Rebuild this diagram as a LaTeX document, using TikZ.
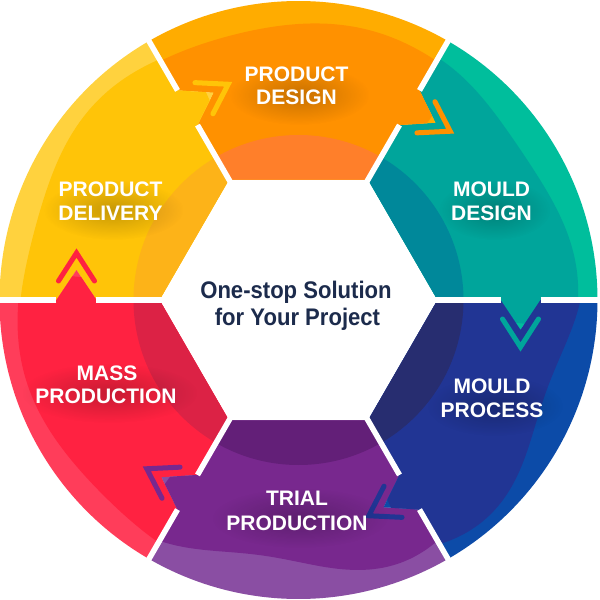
\documentclass[tikz,border=0pt]{standalone}
\usepackage{fontspec}
\setmainfont{Liberation Sans}
\newfontfamily\ctrfont{Liberation Sans}[FakeStretch=0.92]
\usetikzlibrary{calc,fadings}

% Product Design
\definecolor{pdM}{HTML}{FF9100}\definecolor{pdO}{HTML}{FFAC00}\definecolor{pdI}{HTML}{FF7F2A}
% Mould Design
\definecolor{mdM}{HTML}{00A59B}\definecolor{mdO}{HTML}{00BE9C}\definecolor{mdI}{HTML}{00889A}
% Mould Process
\definecolor{mpM}{HTML}{213594}\definecolor{mpO}{HTML}{0C4BA8}\definecolor{mpI}{HTML}{272D70}
% Trial Production
\definecolor{trM}{HTML}{78288E}\definecolor{trO}{HTML}{8A4EA3}\definecolor{trI}{HTML}{631F78}
% Mass Production
\definecolor{msM}{HTML}{FF2241}\definecolor{msO}{HTML}{FF3D5A}\definecolor{msI}{HTML}{DC2245}
% Product Delivery
\definecolor{dlM}{HTML}{FFC408}\definecolor{dlO}{HTML}{FFD23E}\definecolor{dlI}{HTML}{FDB318}
\definecolor{navy}{HTML}{1C2B4C}

\tikzfading[name=softglow, inner color=transparent!0, outer color=transparent!100]

\newcommand\segshape[1]{(#1:139) -- (#1:202) -- ($(#1:222)+({#1-90}:30)$) -- (#1:242) -- (#1:299)
  arc[start angle=#1, end angle={#1+60}, radius=299] -- ({#1+60}:242)
  -- ($({#1+60}:222)+({#1-30}:30)$) -- ({#1+60}:202) -- ({#1+60}:139) -- cycle}

% soft shadow behind a two-line label, centred at (#1,#2), half-width #3
\newcommand\glow[3]{%
  \fill[black, opacity=0.22, path fading=softglow]
    (#1+3,#2-5) ellipse [x radius=#3, y radius=30];}

\begin{document}
\begin{tikzpicture}[x=1pt,y=1pt,
  gap/.style={white, line width=5.5pt},
  chev/.style={line width=5pt, line cap=round, line join=miter},
  lbl/.style={text=white, font=\bfseries\fontsize{21}{23}\selectfont, anchor=base, inner sep=0pt},
  ctr/.style={text=navy, font=\ctrfont\bfseries\fontsize{24}{26}\selectfont, anchor=base, inner sep=0pt}]
\useasboundingbox (-298.5,-300) rectangle (301.5,300);
\fill[white] (-298.5,-300) rectangle (301.5,300);

\foreach \a/\cm/\co/\ci/\c/\amp/\ph in {
   0/mdM/mdO/mdI/274/6/66,
   60/pdM/pdO/pdI/276/3/0,
   120/dlM/dlO/dlI/278/5/0,
   180/msM/msO/msI/280/4/0,
   240/trM/trO/trI/270/12/138,
   300/mpM/mpO/mpI/276/12/30} {
  \pgfmathsetmacro\ds{\a-6}
  \pgfmathsetmacro\de{\a+66}
  \begin{scope}
    \clip \segshape{\a};
    \fill[\co] (0,0) circle (310);
    \fill[\cm] (0,0) -- plot[smooth, domain=\ds:\de, samples=25] (\x:{\c+\amp*sin(6*(\x-\a)+\ph)}) -- cycle;
    \fill[\ci] (0,0) circle (165);
  \end{scope}
}

\foreach \a in {0,60,...,300} {
  \draw[gap] (\a:134) -- (\a:202);
  \draw[gap] (\a:242) -- (\a:306);
}

\foreach \a/\cc in {0/mdM, 60/pdM, 120/dlM, 180/msM, 240/trM, 300/mpM} {
  \draw[chev, \cc] ($(\a:204)+({\a-90}:19)$) -- ($(\a:222)+({\a-90}:47)$) -- ($(\a:240)+({\a-90}:19)$);
}

\glow{-2}{210}{70}
\glow{193}{95}{56}
\glow{193.5}{-101}{68}
\glow{-1.5}{-213}{88}
\glow{-192}{-88}{88}
\glow{-188}{95}{70}

\node[lbl] (pd1) at (-2,218) {PRODUCT};
\node[lbl] (pd2) at (-2,195) {DESIGN};
\node[lbl] (md1) at (193,103) {MOULD};
\node[lbl] (md2) at (193,80) {DESIGN};
\node[lbl] (mp1) at (193.5,-93) {MOULD};
\node[lbl] (mp2) at (193.5,-117) {PROCESS};
\node[lbl] (tr1) at (-1.5,-205) {TRIAL};
\node[lbl] (tr2) at (-1.5,-230) {PRODUCTION};
\node[lbl] (ms1) at (-191.5,-80) {MASS};
\node[lbl] (ms2) at (-192.5,-103) {PRODUCTION};
\node[lbl] (dl1) at (-188,103) {PRODUCT};
\node[lbl] (dl2) at (-188,80) {DELIVERY};

\node[ctr] (c1) at (-2.5,2) {One-stop Solution};
\node[ctr] (c2) at (-1,-25) {for Your Project};
\end{tikzpicture}
\end{document}
